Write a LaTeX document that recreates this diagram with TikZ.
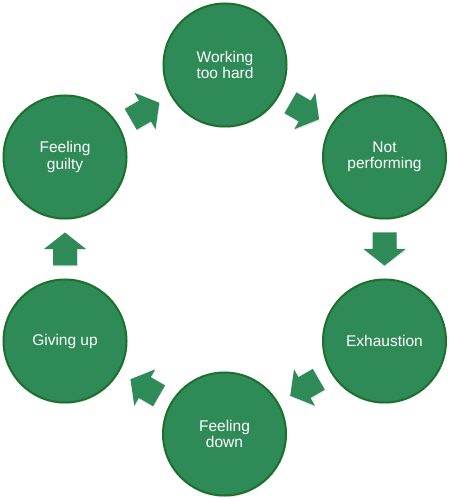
\documentclass[tikz,border=0pt]{standalone}
\usepackage{fontspec}
\setmainfont{Liberation Sans}
\usetikzlibrary{calc,shadows}
\definecolor{cfill}{RGB}{46,139,87}
\definecolor{cedge}{RGB}{28,112,44}
\begin{document}
\begin{tikzpicture}[x=1pt,y=1pt,
  cyc/.style={circle, draw=cedge, fill=cfill, line width=2pt, minimum size=123pt,
    inner sep=0pt, text=white, align=center, font=\fontsize{15.5}{16.5}\selectfont,
    drop shadow={opacity=0.22, shadow xshift=0.5pt, shadow yshift=-1.6pt}},
  blockarrow/.pic={\fill[cfill, drop shadow={opacity=0.22, shadow xshift=0.5pt, shadow yshift=-1.2pt}]
    (-16.5,-12) -- (0,-12) -- (0,-21) -- (16.5,0) -- (0,21) -- (0,12) -- (-16.5,12) -- cycle;}
]
\useasboundingbox (0,0) rectangle (450,499);
\node[cyc] (A) at (225,434)   {Working\\too hard};
\node[cyc] (B) at (384.5,342) {Not\\performing};
\node[cyc] (C) at (384.5,158) {Exhaustion};
\node[cyc] (D) at (224.5,65)  {Feeling\\down};
\node[cyc] (E) at (65,158)    {Giving up};
\node[cyc] (F) at (65,342)    {Feeling\\guilty};
\pic[rotate=-30]  at ($(A)!0.5!(B)$) {blockarrow};
\pic[rotate=-90]  at ($(B)!0.5!(C)$) {blockarrow};
\pic[rotate=-150] at ($(C)!0.5!(D)$) {blockarrow};
\pic[rotate=150]  at ($(D)!0.5!(E)$) {blockarrow};
\pic[rotate=90]   at ($(E)!0.5!(F)$) {blockarrow};
\pic[rotate=30]   at ($(F)!0.5!(A)$) {blockarrow};
\end{tikzpicture}
\end{document}
